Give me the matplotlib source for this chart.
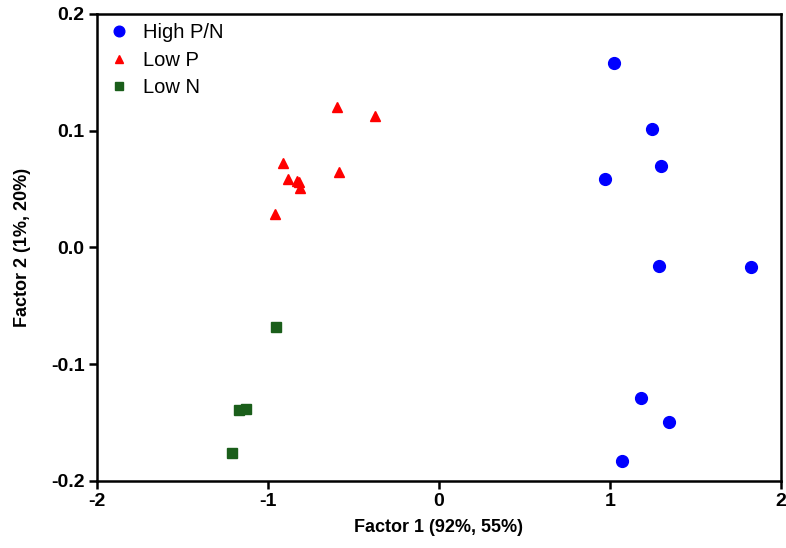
import matplotlib
matplotlib.use("Agg")
import matplotlib.pyplot as plt

# Data
high_x = [1.025, 1.246, 1.300, 0.973, 1.288, 1.826, 1.179, 1.347, 1.068]
high_y = [0.1577, 0.1016, 0.0700, 0.0585, -0.0160, -0.0171, -0.1289, -0.1500, -0.1829]

lowp_x = [-0.598, -0.374, -0.914, -0.883, -0.830, -0.820, -0.813, -0.583, -0.957]
lowp_y = [0.1200, 0.1128, 0.0725, 0.0585, 0.0570, 0.0560, 0.0510, 0.0648, 0.0285]

lown_x = [-0.955, -1.171, -1.130, -1.209]
lown_y = [-0.0680, -0.1397, -0.1386, -0.1763]

plt.rcParams['font.family'] = ['Liberation Sans', 'DejaVu Sans']
plt.rcParams['axes.unicode_minus'] = False

fig = plt.figure(figsize=(7.86, 5.48), dpi=100)
ax = fig.add_axes([0.1234, 0.1228, 0.8702, 0.8517])

ax.plot(high_x, high_y, 'o', color='#0000ff', markersize=8.5, label='High P/N', clip_on=False)
ax.plot(lowp_x, lowp_y, '^', color='#ff0000', markersize=7, label='Low P', clip_on=False)
ax.plot(lown_x, lown_y, 's', color='#1a5e1a', markersize=6.5, label='Low N', clip_on=False)

ax.set_xlim(-2, 2)
ax.set_ylim(-0.2, 0.2)
ax.set_xticks([-2, -1, 0, 1, 2])
ax.set_yticks([-0.2, -0.1, 0.0, 0.1, 0.2])
ax.set_yticklabels(['-0.2', '-0.1', '0.0', '0.1', '0.2'])
ax.tick_params(axis='both', direction='out', length=6, width=1.8, labelsize=14, pad=3)
for lbl in ax.get_xticklabels() + ax.get_yticklabels():
    lbl.set_fontweight('bold')
for s in ax.spines.values():
    s.set_linewidth(1.8)

ax.set_xlabel('Factor 1 (92%, 55%)', fontsize=13, fontweight='bold', labelpad=6)
ax.set_ylabel('Factor 2 (1%, 20%)', fontsize=13, fontweight='bold', labelpad=14)

ax.legend(loc='upper left', frameon=False, fontsize=14.5, handletextpad=0.6,
          borderaxespad=0.15, labelspacing=0.42, handlelength=1.2, markerscale=0.9,
          borderpad=0.32)

fig.savefig('out.png', dpi=100)
